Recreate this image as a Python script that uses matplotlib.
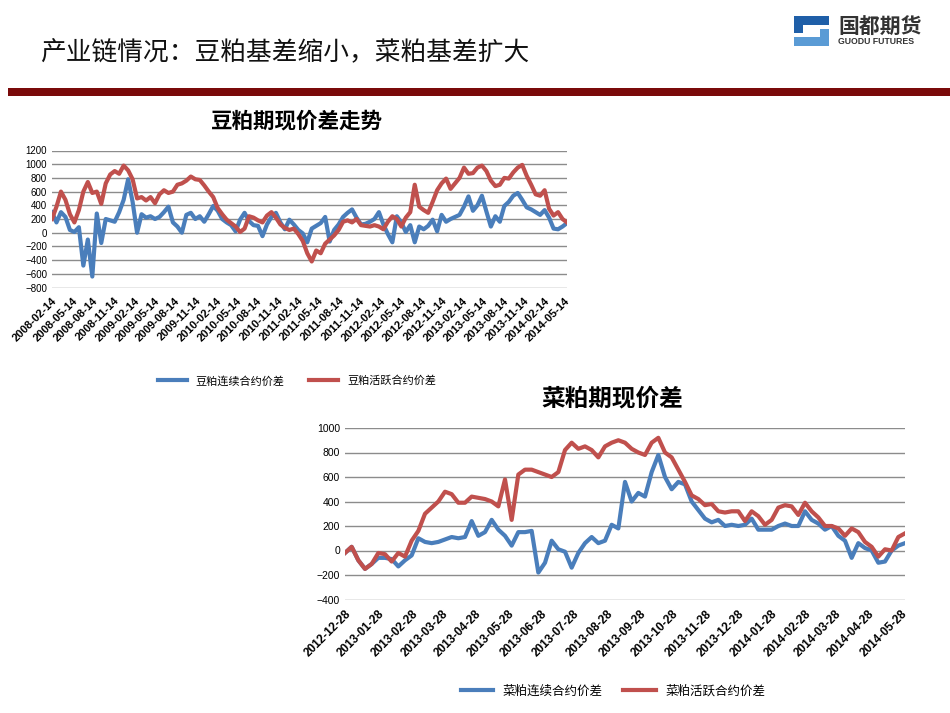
import pandas as pd
import matplotlib.pyplot as plt
from matplotlib.patches import Rectangle

plt.rcParams['font.family'] = ['Liberation Sans', 'Noto Sans CJK SC', 'DejaVu Sans']

BLUE = '#4a7ebb'
RED = '#c0504d'
GRID = '#8c8c8c'

# soybean meal basis, 2008-02-14 .. 2014-05
soy_cont = [300, 150, 300, 230, 40, 10, 80, -480, -100, -640, 280, -150, 200, 180, 160, 300,
            480, 780, 450, 0, 270, 220, 240, 200, 230, 300, 380, 150, 90, 0, 260, 290,
            200, 240, 160, 270, 390, 320, 200, 150, 110, 20, 190, 290, 170, 110, 100, -50,
            120, 230, 290, 150, 50, 190, 120, 40, -10, -140, 60, 100, 140, 230, -130, 40,
            120, 230, 290, 340, 220, 120, 130, 160, 200, 300, 120, -20, -140, 240, 150, 10,
            110, -140, 90, 50, 100, 190, 20, 260, 160, 200, 230, 260, 380, 530, 320, 400,
            540, 310, 90, 240, 160, 390, 450, 540, 580, 480, 370, 340, 300, 260, 330, 220,
            60, 50, 90, 140]
soy_active = [200, 380, 600, 480, 270, 150, 330, 600, 740, 580, 600, 420, 720, 850, 900, 860,
              980, 910, 780, 500, 520, 470, 520, 430, 560, 620, 580, 600, 700, 720, 760, 820,
              780, 770, 690, 600, 520, 360, 270, 190, 140, 90, 10, 60, 240, 220, 180, 150,
              250, 300, 220, 120, 70, 40, 60, -20, -120, -300, -420, -260, -300, -160, -100, -40,
              40, 160, 180, 150, 200, 110, 100, 90, 110, 90, 50, 160, 240, 200, 90, 220,
              300, 700, 380, 330, 290, 450, 620, 720, 790, 640, 720, 800, 950, 860, 870, 950,
              980, 900, 760, 680, 700, 800, 790, 880, 950, 990, 830, 700, 560, 540, 620, 350,
              250, 300, 200, 150]
soy_ticks = pd.date_range('2008-02-14', periods=26, freq=pd.DateOffset(months=3))

# rapeseed meal basis, 2012-12-28 .. 2014-05
rm_cont = [-20, 30, -80, -150, -110, -60, -60, -70, -130, -80, -40, 100, 70, 60, 70, 90,
           110, 100, 110, 240, 120, 150, 250, 170, 120, 40, 150, 150, 160, -180, -100, 80,
           10, -10, -140, -20, 60, 110, 60, 80, 210, 180, 560, 400, 470, 440, 640, 780,
           600, 500, 560, 540, 400, 330, 260, 230, 250, 200, 210, 200, 210, 260, 170, 170,
           170, 200, 220, 200, 200, 320, 250, 220, 170, 200, 120, 80, -60, 60, 20, 0,
           -100, -90, 0, 40, 60]
rm_active = [-20, 30, -80, -150, -110, -20, -30, -90, -20, -50, 80, 160, 300, 350, 400, 480,
             460, 390, 390, 440, 430, 420, 400, 360, 580, 250, 620, 660, 660, 640, 620, 600,
             640, 820, 880, 830, 850, 820, 760, 850, 880, 900, 880, 830, 800, 780, 880, 920,
             800, 760, 660, 560, 450, 420, 370, 380, 320, 310, 320, 320, 240, 320, 280, 210,
             250, 350, 370, 360, 290, 390, 320, 270, 200, 200, 180, 120, 180, 150, 70, 30,
             -50, 10, 0, 110, 140]
rm_ticks = pd.date_range('2012-12-28', periods=18, freq=pd.DateOffset(months=1))

soy_dates = pd.date_range('2008-02-14', '2014-05-25', periods=len(soy_cont))
rm_dates = pd.date_range('2012-12-28', '2014-06-01', periods=len(rm_cont))

W, H = 950, 713
fig = plt.figure(figsize=(9.5, 7.13), dpi=100)


def box(l, t, r, b):
    return [l / W, 1 - b / H, (r - l) / W, (b - t) / H]


def style(ax, ymin, ymax, ticks, fs, xfs):
    ax.set_ylim(ymin, ymax)
    ax.set_yticks(range(ymin, ymax + 1, 200))
    ax.grid(axis='y', color=GRID, linewidth=1)
    ax.set_axisbelow(True)
    for s in ax.spines.values():
        s.set_visible(False)
    ax.tick_params(length=0, labelsize=fs)
    ax.set_xticks(ticks)
    ax.set_xticklabels([d.strftime('%Y-%m-%d') for d in ticks], rotation=45, ha='right',
                       rotation_mode='anchor', fontweight='bold', fontsize=xfs)
    ax.tick_params(axis='x', pad=6)


# top chart
ax1 = fig.add_axes(box(52, 150.5, 567, 287.5))
ax1.plot(soy_dates, soy_cont, color=BLUE, lw=3, label='豆粕连续合约价差')
ax1.plot(soy_dates, soy_active, color=RED, lw=3, label='豆粕活跃合约价差')
ax1.set_xlim(soy_dates[0], soy_dates[-1])
style(ax1, -800, 1200, soy_ticks, 7, 8)
ax1.legend(loc='center', bbox_to_anchor=(297 / W, 1 - 381 / H), bbox_transform=fig.transFigure,
           ncol=2, frameon=False, handlelength=2.6, columnspacing=2.2,
           prop={'family': ['Noto Sans CJK SC'], 'size': 8})
fig.text(297 / W, 1 - 121 / H, '豆粕期现价差走势', ha='center', va='center', fontsize=15.5,
         fontweight='bold', family=['Noto Sans CJK SC'])

# bottom chart
ax2 = fig.add_axes(box(345, 428, 905, 599.5))
ax2.plot(rm_dates, rm_cont, color=BLUE, lw=3, label='菜粕连续合约价差')
ax2.plot(rm_dates, rm_active, color=RED, lw=3, label='菜粕活跃合约价差')
ax2.set_xlim(rm_dates[0], rm_dates[-1])
style(ax2, -400, 1000, rm_ticks, 7.5, 8.5)
ax2.legend(loc='center', bbox_to_anchor=(613 / W, 1 - 691 / H), bbox_transform=fig.transFigure,
           ncol=2, frameon=False, handlelength=2.6, columnspacing=1.6,
           prop={'family': ['Noto Sans CJK SC'], 'size': 9})
fig.text(612 / W, 1 - 398 / H, '菜粕期现价差', ha='center', va='center', fontsize=17,
         fontweight='bold', family=['Noto Sans CJK SC'])

# slide header
top = fig.add_axes([0, 0, 1, 1], zorder=-1)
top.set_xlim(0, W)
top.set_ylim(H, 0)
top.axis('off')
top.add_patch(Rectangle((8, 88), W - 8, 8, color='#7a0a0a', lw=0))
top.text(40, 53, '产业链情况：豆粕基差缩小，菜粕基差扩大', ha='left', va='center', fontsize=18.5,
         family=['Noto Sans CJK SC'], fontweight='light', color='#111111')
# logo
top.add_patch(Rectangle((794, 16), 35, 9, color='#1f5fa8', lw=0))
top.add_patch(Rectangle((794, 16), 9, 17, color='#1f5fa8', lw=0))
top.add_patch(Rectangle((794, 37), 35, 9, color='#5a9bd5', lw=0))
top.add_patch(Rectangle((820, 29), 9, 17, color='#5a9bd5', lw=0))
top.text(838, 27, '国都期货', ha='left', va='center', fontsize=15, fontweight='bold',
         family=['Noto Sans CJK SC'], color='#333333')
top.text(838, 42, 'GUODU FUTURES', ha='left', va='center', fontsize=6.3, fontweight='bold',
         color='#333333')

fig.savefig('out.png', dpi=100)
